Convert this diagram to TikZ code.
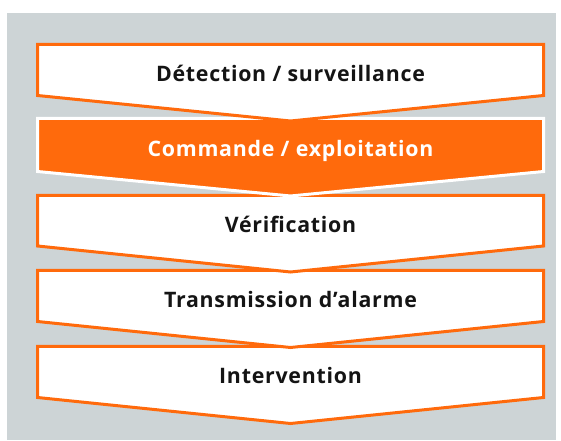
\documentclass[tikz,border=0pt]{standalone}
\usepackage{fontspec}
\setmainfont{Open Sans}[LetterSpace=3.5]
\usepackage{tikz}
\definecolor{stageorange}{RGB}{255,106,12}
\definecolor{panelgray}{RGB}{205,212,214}
\definecolor{labelblack}{RGB}{20,20,20}
\tikzset{
  stage/.style={fill=white, draw=stageorange, line width=2.25pt, line join=miter},
  stageactive/.style={fill=stageorange, draw=white, line width=2.25pt, line join=miter},
  stagelabel/.style={anchor=base, font=\fontsize{16}{18}\selectfont\bfseries,
                     text=labelblack, inner sep=0pt},
}

\begin{document}
\begin{tikzpicture}[x=0.75pt, y=-0.75pt]
  \useasboundingbox (0,0) rectangle (561,441);
  % Panel
  \fill[panelgray] (7,13) rectangle (556,440);

  % Stages, drawn bottom up so each tip lies on the next box
  \draw[stage] (37.5,346.5) -- (543.5,346.5) -- (543.5,397.5)
    -- (290.5,423.5) -- (37.5,397.5) -- cycle;
  \draw[stage] (37.5,270.5) -- (543.5,270.5) -- (543.5,321.5)
    -- (290.5,347.5) -- (37.5,321.5) -- cycle;
  \draw[stage] (37.5,195.5) -- (543.5,195.5) -- (543.5,246)
    -- (290.5,272) -- (37.5,246) -- cycle;
  \draw[stageactive] (37.5,118.5) -- (543.5,118.5) -- (543.5,171.5)
    -- (290.5,196) -- (37.5,171.5) -- cycle;
  \draw[stage] (37.5,44.5) -- (543.5,44.5) -- (543.5,95.5)
    -- (290.5,121) -- (37.5,95.5) -- cycle;

  % Labels
  \node[stagelabel] (detection) at (290.5,82) {Détection / surveillance};
  \node[stagelabel, text=white] (commande) at (290.5,157) {Commande / exploitation};
  \node[stagelabel] (verification) at (290.5,233) {Vérification};
  \node[stagelabel] (transmission) at (290.5,308) {Transmission d’alarme};
  \node[stagelabel] (intervention) at (290.5,384) {Intervention};
\end{tikzpicture}
\end{document}
